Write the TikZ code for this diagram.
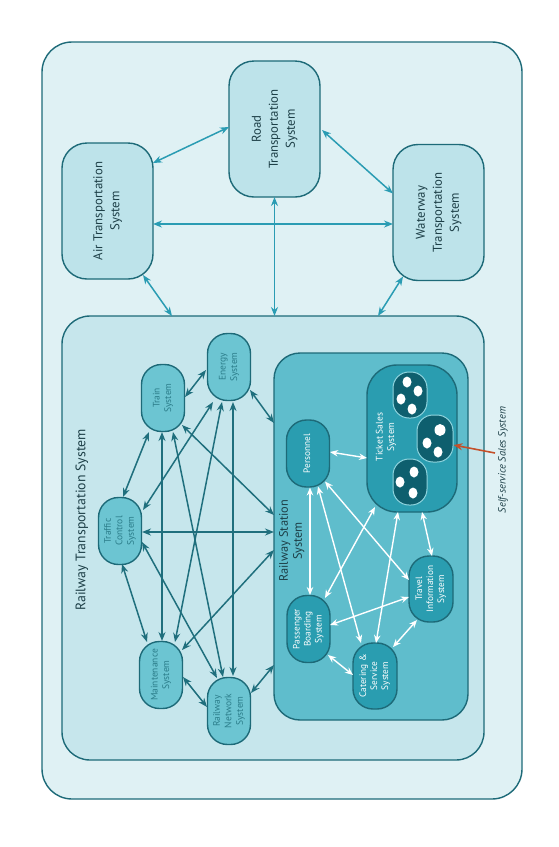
\documentclass[tikz,border=0pt]{standalone}
\usepackage{fontspec}
\setmainfont{PT Sans}
\usetikzlibrary{arrows.meta,calc}
\definecolor{outerfill}{HTML}{DFF1F4}
\definecolor{topfill}{HTML}{BDE3EA}
\definecolor{railfill}{HTML}{C6E6EC}
\definecolor{smallfill}{HTML}{6CC5D2}
\definecolor{stationfill}{HTML}{5FBDCC}
\definecolor{darkfill}{HTML}{2A9DB0}
\definecolor{ssfill}{HTML}{0E5F6E}
\definecolor{ssborder}{HTML}{8FD4DE}
\definecolor{bordercol}{HTML}{1D6A78}
\definecolor{toparrow}{HTML}{2A9CB3}
\definecolor{railarrow}{HTML}{1F6F7D}
\definecolor{titletext}{HTML}{1D3F47}
\definecolor{smalltext}{HTML}{2B7D8A}
\definecolor{redarrow}{HTML}{C4502A}
\newcommand{\rtxt}[1]{\rotatebox{90}{\begin{tabular}{@{}c@{}}#1\end{tabular}}}
\tikzset{
  boxbase/.style={draw=bordercol, line width=1.4pt, inner sep=0pt, outer sep=0pt},
  bigbox/.style={boxbase, rounded corners=28pt},
  topbox/.style={boxbase, fill=topfill, rounded corners=25pt, minimum width=91pt, minimum height=136pt,
    text=titletext, font=\fontsize{12.8}{17}\selectfont},
  smallnode/.style={boxbase, fill=smallfill, rounded corners=20pt, minimum width=43pt, minimum height=67pt,
    text=smalltext, font=\fontsize{9.5}{11.5}\selectfont},
  stnode/.style={boxbase, fill=darkfill, rounded corners=20pt, minimum width=43pt, minimum height=67pt,
    text=white, font=\fontsize{9.3}{11}\selectfont},
  ssnode/.style={draw=ssborder, line width=1pt, fill=ssfill, rounded corners=16pt, inner sep=0pt,
    minimum width=34pt, minimum height=46pt},
  toparr/.style={draw=toparrow, line width=1.5pt, {Stealth[length=9pt,width=7pt]}-{Stealth[length=9pt,width=7pt]}},
  railarr/.style={draw=railarrow, line width=1.5pt, {Stealth[length=9pt,width=7pt]}-{Stealth[length=9pt,width=7pt]}},
  whitearr/.style={draw=white, line width=1.4pt, {Stealth[length=8pt,width=6.5pt]}-{Stealth[length=8pt,width=6.5pt]}},
  dot/.style={fill=white, draw=none}
}
\begin{document}
\begin{tikzpicture}[x=1pt,y=-1pt]
\useasboundingbox (0,0) rectangle (559,847);
\fill[white] (0,0) rectangle (559,847);
% outer box
\node[bigbox, fill=outerfill, minimum width=480pt, minimum height=757pt, rounded corners=30pt] (outer) at (282,420.5) {};
% top-level boxes
\node[topbox] (air) at (107.5,211) {\rtxt{Air Transportation\\System}};
\node[topbox] (road) at (274.5,129) {\rtxt{Road\\Transportation\\System}};
\node[topbox] (water) at (438.5,212.5) {\rtxt{Waterway\\Transportation\\System}};
% railway transportation box
\node[bigbox, fill=railfill, minimum width=422pt, minimum height=444pt] (rail) at (273,538) {};
\node[text=titletext, font=\fontsize{13.8}{16}\selectfont, inner sep=0pt] (railtitle) at (82,520) {\rotatebox{90}{Railway Transportation System}};
% station box
\node[bigbox, fill=stationfill, minimum width=194pt, minimum height=367pt, rounded corners=26pt] (station) at (371,536.5) {};
\node[text=titletext, font=\fontsize{12.3}{14}\selectfont, inner sep=0pt] (sttitle) at (292,541) {\rtxt{Railway Station\\System}};
% railway subsystem nodes
\node[smallnode] (train) at (163,398) {\rtxt{Train\\System}};
\node[smallnode] (energy) at (229,367) {\rtxt{Energy\\System}};
\node[smallnode] (traffic) at (120,531) {\rtxt{Traffic\\Control\\System}};
\node[smallnode] (maint) at (161,675) {\rtxt{Maintenance\\System}};
\node[smallnode] (net) at (229,711) {\rtxt{Railway\\Network\\System}};
% station nodes
\node[stnode] (pers) at (308,453.5) {\rtxt{Personnel}};
\node[stnode, minimum width=90pt, minimum height=147pt, rounded corners=30pt] (ticket) at (412,438.5) {};
\node[text=white, font=\fontsize{9.5}{11.5}\selectfont, inner sep=0pt] (tickettext) at (386,437) {\rtxt{Ticket Sales\\System}};
\node[stnode, minimum width=44pt, minimum height=66pt] (travel) at (431,589) {\rtxt{Travel\\Information\\System}};
\node[stnode] (pass) at (308.5,629) {\rtxt{Passenger\\Boarding\\System}};
\node[stnode, minimum width=44pt, minimum height=66pt] (cater) at (375,676) {\rtxt{Catering \&\\Service\\System}};
% self-service ovals
\node[ssnode] (ss1) at (410,395) {};
\node[ssnode, minimum width=36pt, minimum height=47pt] (ss2) at (435,438.5) {};
\node[ssnode] (ss3) at (410,482) {};
% dots
\fill[dot] (407,382) ellipse (4.5 and 5.5);
\fill[dot] (418,391) ellipse (4.5 and 5.5);
\fill[dot] (401,399) ellipse (4.5 and 5.5);
\fill[dot] (412,409) ellipse (4.5 and 5.5);
\fill[dot] (440,430) ellipse (5.5 and 6);
\fill[dot] (427,443) ellipse (4.5 and 5.5);
\fill[dot] (438,452) ellipse (4.5 and 5.5);
\fill[dot] (414,472) ellipse (4.5 and 5.5);
\fill[dot] (400,482) ellipse (4.5 and 5.5);
\fill[dot] (413,493) ellipse (4.5 and 5.5);
% self-service label
\node[text=titletext, font=\fontsize{10.5}{12}\selectfont\itshape, inner sep=0pt] (sslabel) at (503,460) {\rotatebox{90}{Self-service Sales System}};
\draw[draw=redarrow, line width=1.6pt, -{Stealth[length=9pt,width=7pt]}] ($(sslabel.west)+(-3,-7)$) -- ($(ss2.east)+(0,6.5)$);
% top-level connectors
\draw[toparr] ($(air.east)+(0,-48)$) -- ($(road.west)+(0,-2)$);
\draw[toparr] ($(road.east)+(2,1)$) -- ($(water.west)+(0,-19)$);
\draw[toparr] ($(air.east)+(0,13)$) -- ($(water.west)+(0,11.5)$);
\draw[toparr] (road.south) -- (road.south |- rail.north);
\draw[toparr] ($(air.south east)+(-10,-4)$) -- ($(rail.north west)+(110,0)$);
\draw[toparr] ($(water.south west)+(10,-4)$) -- ($(rail.north east)+(-106,0)$);
% railway connectors
\draw[railarr] ($(train)+(22,-1)$) -- ($(energy)+(-23,3)$);
\draw[railarr] ($(train)+(-14,34)$) -- ($(traffic)+(3,-34)$);
\draw[railarr] ($(energy)+(-16,35)$) -- ($(traffic)+(23,-21)$);
\draw[railarr] ($(traffic)+(22,1)$) -- ($(station.west)+(0,-4.5)$);
\draw[railarr] ($(train)+(19,27)$) -- ($(station.west)+(0,-21.5)$);
\draw[railarr] ($(energy)+(21,23)$) -- ($(station.west)+(0,-113.5)$);
\draw[railarr] ($(train)+(-1,34)$) -- ($(maint)+(1,-34)$);
\draw[railarr] ($(train)+(10,34)$) -- ($(net)+(-6,-34)$);
\draw[railarr] ($(energy)+(-7,35)$) -- ($(maint)+(14,-33)$);
\draw[railarr] ($(energy)+(4,35)$) -- ($(net)+(4,-35)$);
\draw[railarr] ($(traffic)+(2,33)$) -- ($(maint)+(-14,-33)$);
\draw[railarr] ($(traffic)+(22,11)$) -- ($(net)+(-12,-33)$);
\draw[railarr] ($(maint)+(21,-25)$) -- ($(station.west)+(0,13.5)$);
\draw[railarr] ($(maint)+(22,2)$) -- ($(net)+(-22,-4)$);
\draw[railarr] ($(net)+(22,-18)$) -- ($(station.west)+(0,128.5)$);
% station connectors
\draw[whitearr] ($(pers)+(22,-1.5)$) -- ($(ticket)+(-45,19.5)$);
\draw[whitearr] ($(pers)+(2,34)$) -- ($(pass)+(1.5,-34)$);
\draw[whitearr] ($(pers)+(10,33)$) -- ($(cater)+(-14,-33)$);
\draw[whitearr] ($(pers)+(17,28)$) -- ($(travel)+(-22,-9)$);
\draw[whitearr] ($(ticket)+(-37,68.5)$) -- ($(pass)+(16.5,-31)$);
\draw[whitearr] ($(ticket)+(-14,73.5)$) -- ($(cater)+(1,-33)$);
\draw[whitearr] ($(ticket)+(10,73.5)$) -- ($(travel)+(1,-33)$);
\draw[whitearr] ($(travel)+(-22,8)$) -- ($(pass)+(21.5,-4)$);
\draw[whitearr] ($(travel)+(-14,31)$) -- ($(cater)+(18,-29)$);
\draw[whitearr] ($(pass)+(19.5,26)$) -- ($(cater)+(-22,-1)$);
\end{tikzpicture}
\end{document}
